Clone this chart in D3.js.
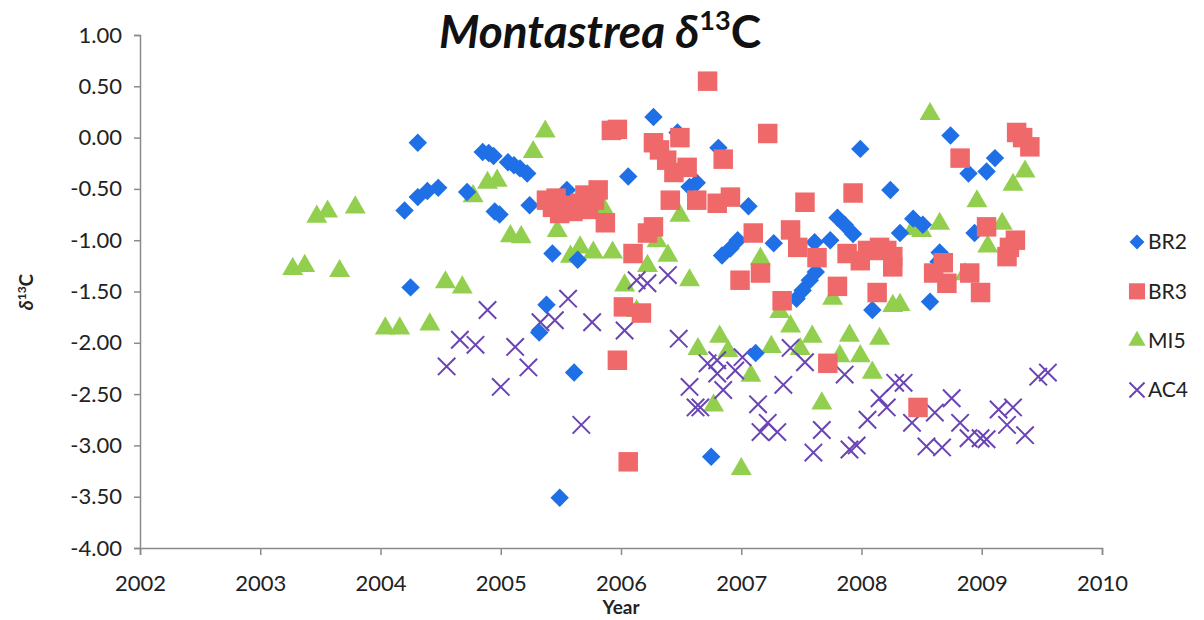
<!DOCTYPE html>
<html>
<head>
<meta charset="utf-8">
<script src="https://cdn.jsdelivr.net/npm/d3@7"></script>
<style>
  html, body { margin: 0; padding: 0; background: #fff; }
  svg { display: block; }
  text { font-family: Lato, "Open Sans", sans-serif; }
</style>
</head>
<body>
<svg id="chart" width="1204" height="620"></svg>
<script>
// Axis ticks
const xTicks = [2002, 2003, 2004, 2005, 2006, 2007, 2008, 2009, 2010];
const yTicks = [1, 0.5, 0, -0.5, -1, -1.5, -2, -2.5, -3, -3.5, -4];

// Series names for the legend
const seriesNames = ["BR2", "BR3", "MI5", "AC4"];

// δ13C samples: [year, value]
const br2 = [
  [2004.20, -0.71], [2004.31, -0.05], [2004.25, -1.46], [2004.31, -0.58],
  [2004.39, -0.52], [2004.48, -0.49], [2004.72, -0.53], [2004.85, -0.14],
  [2004.90, -0.15], [2004.94, -0.18], [2004.95, -0.72], [2004.99, -0.75],
  [2005.06, -0.24], [2005.11, -0.27], [2005.16, -0.30], [2005.22, -0.35],
  [2005.24, -0.66], [2005.38, -1.63], [2005.32, -1.90], [2005.43, -1.13],
  [2005.49, -3.51], [2005.61, -2.29], [2005.55, -0.51], [2005.64, -1.19],
  [2006.06, -0.38], [2006.27, 0.20], [2006.47, 0.05], [2006.57, -0.48],
  [2006.63, -0.44], [2006.81, -0.10], [2006.75, -3.11], [2006.84, -1.15],
  [2006.91, -1.08], [2006.97, -1.00], [2007.06, -0.67], [2007.12, -2.10],
  [2007.27, -1.03], [2007.99, -0.11], [2008.24, -0.51], [2007.80, -0.78],
  [2007.86, -0.85], [2007.93, -0.94], [2007.61, -1.02], [2007.74, -1.00],
  [2007.46, -1.57], [2007.51, -1.49], [2007.57, -1.39], [2007.62, -1.31],
  [2008.09, -1.68], [2008.74, 0.02], [2008.89, -0.35], [2009.11, -0.20],
  [2009.04, -0.33], [2008.43, -0.79], [2008.51, -0.85], [2008.32, -0.93],
  [2008.94, -0.93], [2008.57, -1.60], [2008.65, -1.12], [2008.64, -1.21]
];

const br3 = [
  [2005.92, 0.07], [2005.97, 0.08], [2005.38, -0.61], [2005.43, -0.68],
  [2005.49, -0.74], [2005.46, -0.59], [2005.54, -0.66], [2005.60, -0.72],
  [2005.66, -0.64], [2005.73, -0.70], [2005.78, -0.61], [2005.81, -0.51],
  [2005.87, -0.83], [2005.70, -0.56], [2006.27, -0.05], [2006.32, -0.12],
  [2006.49, 0.00], [2006.38, -0.22], [2006.44, -0.34], [2006.55, -0.29],
  [2006.41, -0.61], [2006.63, -0.61], [2006.27, -0.87], [2006.22, -0.93],
  [2006.10, -1.13], [2006.02, -1.65], [2006.17, -1.71], [2005.97, -2.17],
  [2006.06, -3.16], [2006.72, 0.55], [2007.22, 0.04], [2006.85, -0.21],
  [2006.80, -0.64], [2006.91, -0.58], [2007.10, -0.93], [2007.53, -0.63],
  [2007.93, -0.54], [2007.41, -0.90], [2007.47, -1.07], [2007.63, -1.17],
  [2007.88, -1.13], [2007.99, -1.20], [2008.15, -1.07], [2008.26, -1.16],
  [2006.99, -1.39], [2007.16, -1.32], [2007.34, -1.59], [2007.80, -1.45],
  [2008.13, -1.51], [2007.72, -2.20], [2009.29, 0.05], [2009.34, 0.00],
  [2009.40, -0.09], [2008.82, -0.20], [2008.21, -1.10], [2008.26, -1.26],
  [2008.60, -1.32], [2008.68, -1.22], [2008.71, -1.42], [2008.90, -1.32],
  [2008.99, -1.51], [2009.04, -0.87], [2009.23, -1.07], [2009.28, -1.00],
  [2009.21, -1.16], [2008.47, -2.63], [2008.05, -1.10]
];

const mi5 = [
  [2003.47, -0.78], [2003.56, -0.73], [2003.79, -0.69], [2003.27, -1.29],
  [2003.37, -1.26], [2003.66, -1.31], [2004.54, -1.42], [2004.68, -1.47],
  [2004.04, -1.87], [2004.16, -1.87], [2004.41, -1.83], [2004.77, -0.58],
  [2004.89, -0.45], [2004.97, -0.43], [2005.37, 0.05], [2005.27, -0.15],
  [2005.08, -0.97], [2005.17, -0.98], [2005.47, -0.92], [2005.85, -0.69],
  [2005.66, -1.08], [2005.77, -1.13], [2005.93, -1.13], [2005.58, -1.17],
  [2006.49, -0.77], [2006.30, -1.02], [2006.39, -1.16], [2006.57, -1.40],
  [2006.22, -1.26], [2006.03, -1.45], [2006.13, -1.70], [2007.16, -1.19],
  [2007.32, -1.71], [2007.41, -1.85], [2006.82, -1.95], [2006.64, -2.07],
  [2006.89, -2.09], [2007.25, -2.05], [2007.59, -1.95], [2007.90, -1.94],
  [2008.15, -1.97], [2007.49, -2.07], [2007.99, -2.14], [2007.82, -2.14],
  [2008.09, -2.30], [2007.08, -2.33], [2006.77, -2.62], [2007.67, -2.60],
  [2007.00, -3.24], [2008.26, -1.65], [2007.76, -1.58], [2008.57, 0.22],
  [2009.36, -0.34], [2009.26, -0.47], [2008.96, -0.63], [2008.65, -0.85],
  [2008.43, -0.90], [2008.50, -0.92], [2009.17, -0.85], [2009.05, -1.07],
  [2008.86, -1.34], [2008.32, -1.64]
];

const ac4 = [
  [2004.89, -1.68], [2004.66, -1.97], [2004.79, -2.02], [2004.55, -2.23],
  [2005.12, -2.04], [2005.00, -2.43], [2005.23, -2.24], [2005.33, -1.80],
  [2005.45, -1.78], [2005.56, -1.57], [2005.76, -1.80], [2005.67, -2.80],
  [2006.03, -1.88], [2006.13, -1.39], [2006.22, -1.42], [2006.39, -1.34],
  [2006.48, -1.96], [2006.57, -2.43], [2006.62, -2.63], [2006.72, -2.20],
  [2006.80, -2.30], [2006.85, -2.46], [2006.66, -2.63], [2007.01, -2.14],
  [2006.95, -2.27], [2006.80, -2.17], [2007.35, -2.41], [2007.14, -2.60],
  [2007.22, -2.78], [2007.16, -2.87], [2007.30, -2.87], [2007.41, -2.05],
  [2007.53, -2.19], [2007.67, -2.85], [2007.60, -3.07], [2007.90, -3.04],
  [2007.96, -3.00], [2007.86, -2.31], [2008.05, -2.75], [2008.15, -2.54],
  [2008.21, -2.63], [2008.28, -2.39], [2008.35, -2.39], [2008.42, -2.78],
  [2008.54, -3.01], [2008.67, -3.02], [2008.75, -2.54], [2008.61, -2.68],
  [2008.82, -2.78], [2008.89, -2.93], [2008.99, -2.93], [2009.04, -2.94],
  [2009.14, -2.65], [2009.26, -2.63], [2009.21, -2.80], [2009.36, -2.90],
  [2009.47, -2.33], [2009.55, -2.29]
];

const colors = { BR2: "#1f6fe6", BR3: "#f0696a", MI5: "#93cf4f", AC4: "#6a44b5" };

const svg = d3.select("#chart");
const x = d3.scaleLinear().domain([2002, 2010]).range([140, 1102]);
const y = d3.scaleLinear().domain([-4, 1]).range([548, 35]);

const axisColor = "#8a8a8a";

// Y axis
const yAxis = svg.append("g")
  .attr("transform", `translate(${x(2002)},0)`)
  .call(d3.axisLeft(y).tickValues(yTicks).tickSize(6).tickPadding(12)
    .tickFormat(d3.format(".2f")));
yAxis.select(".domain").attr("stroke", axisColor).attr("stroke-width", 1.5);
yAxis.selectAll(".tick line").attr("stroke", axisColor).attr("stroke-width", 1.5);
yAxis.selectAll(".tick text")
  .attr("font-size", 22).attr("fill", "#222")
  .text(d => d3.format(".2f")(d).replace("−", "-"));

// X axis
const xAxis = svg.append("g")
  .attr("transform", `translate(0,${y(-4)})`)
  .call(d3.axisBottom(x).tickValues(xTicks).tickSize(7).tickPadding(20)
    .tickFormat(d3.format("d")));
xAxis.select(".domain").attr("stroke", axisColor).attr("stroke-width", 1.5);
xAxis.selectAll(".tick line").attr("stroke", axisColor).attr("stroke-width", 1.5);
xAxis.selectAll(".tick text").attr("font-size", 22).attr("fill", "#222");

// Axis titles
svg.append("text")
  .attr("x", x(2006)).attr("y", 614)
  .attr("text-anchor", "middle").attr("font-size", 19).attr("font-weight", "bold")
  .attr("fill", "#222").text("Year");

const yTitle = svg.append("text")
  .attr("transform", "translate(33,292) rotate(-90)")
  .attr("text-anchor", "middle").attr("font-size", 19).attr("font-weight", "bold")
  .attr("fill", "#222");
yTitle.append("tspan").attr("font-style", "italic").text("δ");
yTitle.append("tspan").attr("font-size", 12).attr("dy", -7).text("13");
yTitle.append("tspan").attr("dy", 7).text("C");

// Chart title
const title = svg.append("text")
  .attr("x", 600).attr("y", 48)
  .attr("text-anchor", "middle").attr("font-size", 46).attr("font-weight", "bold")
  .attr("fill", "#111");
title.append("tspan").attr("font-style", "italic").text("Montastrea δ");
title.append("tspan").attr("font-size", 27).attr("dy", -18).text("13");
title.append("tspan").attr("dy", 18).text("C");

// Marker shapes
const shapes = {
  BR2: d3.symbol().type(d3.symbolSquare).size(170),
  BR3: d3.symbol().type(d3.symbolSquare).size(380),
  MI5: d3.symbol().type(d3.symbolTriangle).size(190),
  AC4: d3.symbol().type(d3.symbolTimes).size(200)
};

function drawSeries(name, data) {
  const g = svg.append("g").attr("class", "series-" + name);
  g.selectAll("path").data(data).join("path")
    .attr("d", shapes[name]())
    .attr("transform", d => {
      const base = `translate(${x(d[0])},${y(d[1])})`;
      return name === "BR2" ? base + " rotate(45)" :
             name === "MI5" ? base + " translate(0,-1)" : base;
    })
    .attr("fill", name === "AC4" ? "none" : colors[name])
    .attr("stroke", name === "AC4" ? colors[name] : "none")
    .attr("stroke-width", name === "AC4" ? 2 : 0);
}

drawSeries("MI5", mi5);
drawSeries("AC4", ac4);
drawSeries("BR2", br2);
drawSeries("BR3", br3);

// Legend
const legend = svg.append("g").attr("transform", "translate(1137,0)");
const legendY = d3.scalePoint().domain(seriesNames).range([242, 390]);
seriesNames.forEach(name => {
  const cy = legendY(name);
  const sym = name === "BR2" ? d3.symbol().type(d3.symbolSquare).size(110)
            : name === "BR3" ? d3.symbol().type(d3.symbolSquare).size(260)
            : name === "MI5" ? d3.symbol().type(d3.symbolTriangle).size(130)
            : d3.symbol().type(d3.symbolTimes).size(150);
  legend.append("path")
    .attr("d", sym())
    .attr("transform", `translate(0,${cy})` + (name === "BR2" ? " rotate(45)" : ""))
    .attr("fill", name === "AC4" ? "none" : colors[name])
    .attr("stroke", name === "AC4" ? colors[name] : "none")
    .attr("stroke-width", 2);
  legend.append("text")
    .attr("x", 11).attr("y", cy).attr("dy", "0.35em")
    .attr("font-size", 21).attr("fill", "#222").text(name);
});
</script>
</body>
</html>
